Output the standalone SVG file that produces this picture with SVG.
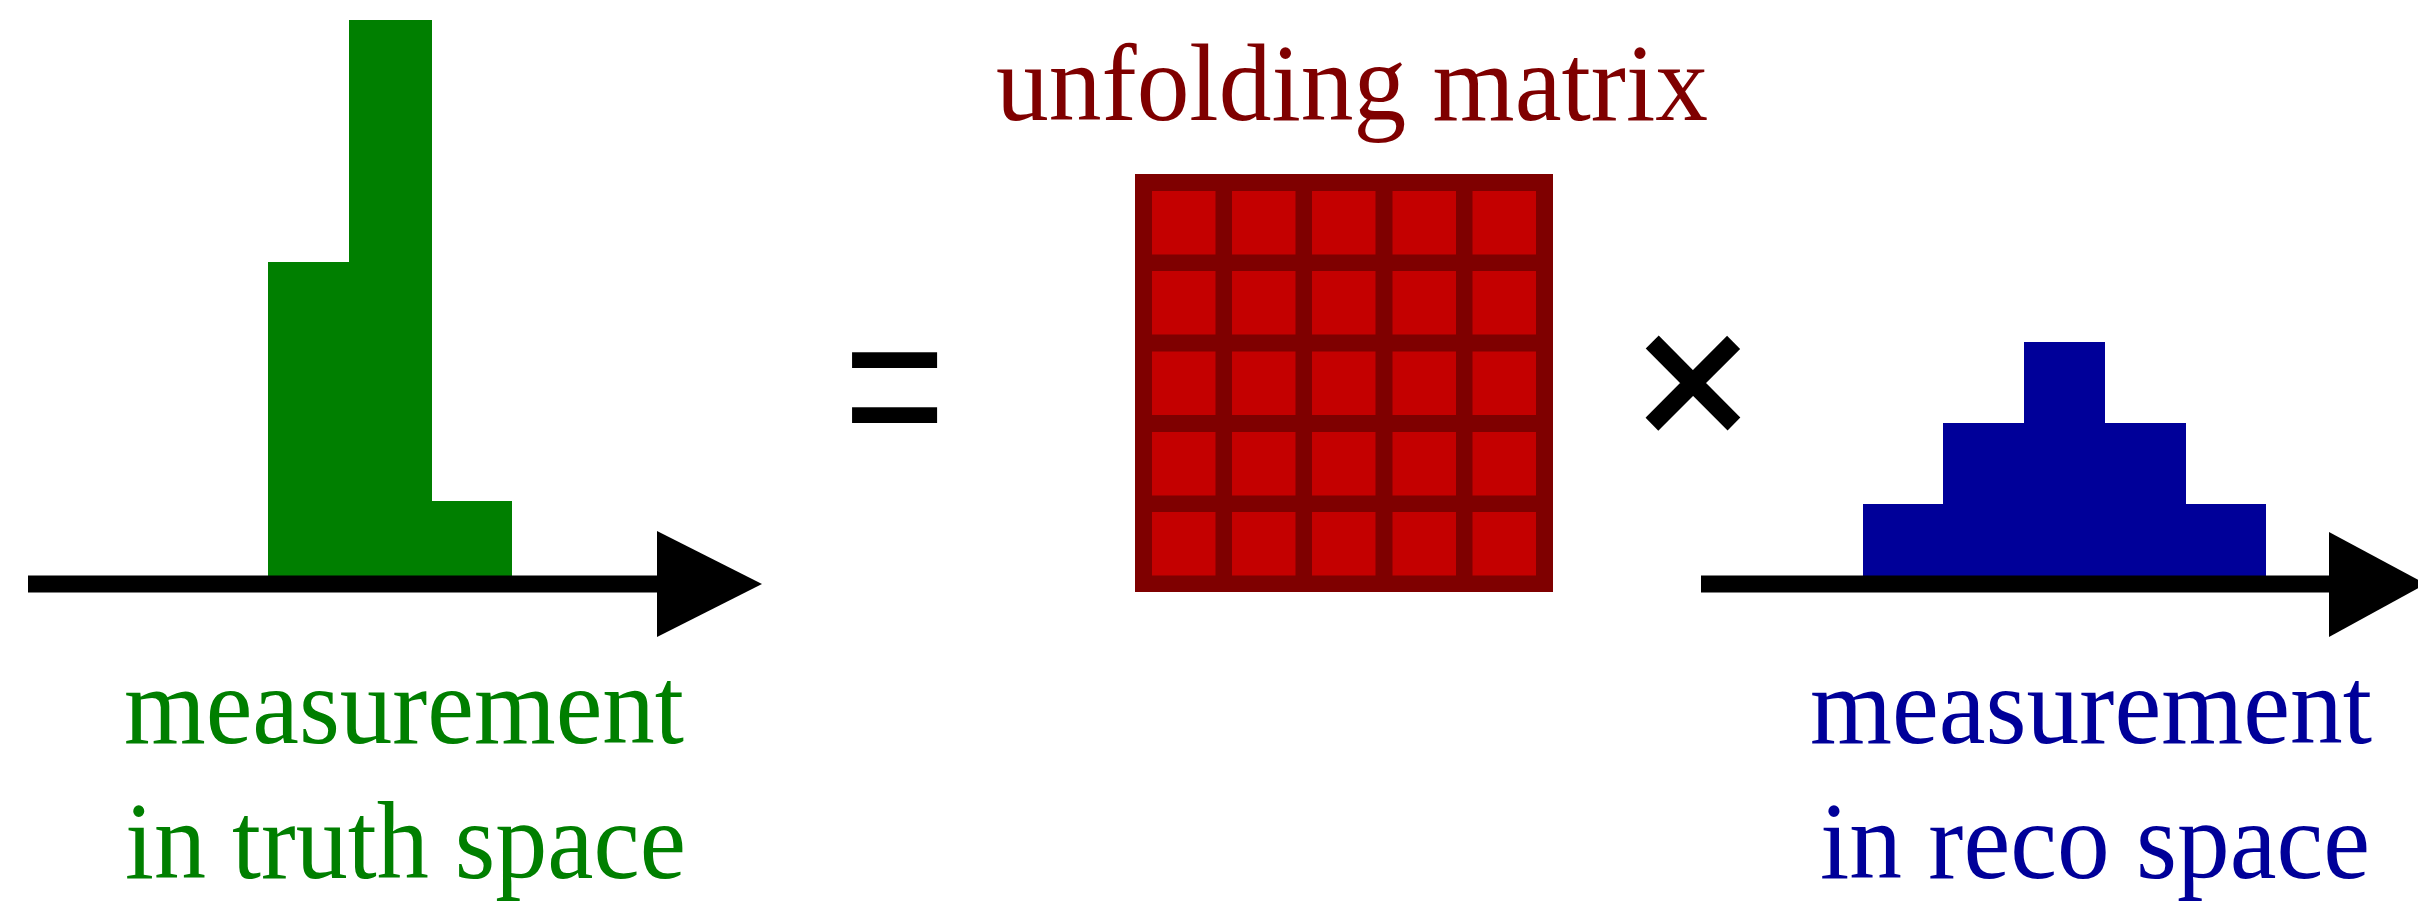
<svg xmlns="http://www.w3.org/2000/svg" width="2418" height="902" viewBox="0 0 2418 902">
  <style>
    .lbl { font-family: "Liberation Serif", "Times New Roman", serif; font-size: 110px; }
    .op { font-family: "Liberation Sans", Arial, sans-serif; fill: #000; }
    .green { fill: #007f00; }
    .blue { fill: #000099; }
    .dred { fill: #7f0000; }
    .cell { fill: #c40000; }
    .axis { stroke: #000; stroke-width: 17; fill: none; }
  </style>
  <rect x="0" y="0" width="2418" height="902" fill="#ffffff"/>

  <g id="truth-histogram">
    <rect class="green" x="268" y="262" width="82" height="314"/>
    <rect class="green" x="349" y="20" width="83" height="556"/>
    <rect class="green" x="431" y="501" width="81" height="75"/>
  </g>

  <g id="reco-histogram">
    <rect class="blue" x="1863" y="504" width="81" height="75"/>
    <rect class="blue" x="1943" y="423" width="82" height="156"/>
    <rect class="blue" x="2024" y="342" width="81" height="237"/>
    <rect class="blue" x="2104" y="423" width="82" height="156"/>
    <rect class="blue" x="2185" y="504" width="81" height="75"/>
  </g>

  <g id="connectors">
    <g id="truth-axis">
      <line class="axis" x1="28" y1="584" x2="660" y2="584"/>
      <polygon points="657,531 762,584 657,637" fill="#000"/>
    </g>
    <g id="reco-axis">
      <line class="axis" x1="1701" y1="584" x2="2332" y2="584"/>
      <polygon points="2329,532 2426,584 2329,637" fill="#000"/>
    </g>
  </g>

  <g id="unfolding-matrix">
    <rect class="dred" x="1135" y="174" width="418" height="418"/>
    <g>
      <rect class="cell" x="1152" y="191" width="63.5" height="63.5"/>
      <rect class="cell" x="1232" y="191" width="63.5" height="63.5"/>
      <rect class="cell" x="1312" y="191" width="63.5" height="63.5"/>
      <rect class="cell" x="1392.5" y="191" width="63.5" height="63.5"/>
      <rect class="cell" x="1472.5" y="191" width="63.5" height="63.5"/>

      <rect class="cell" x="1152" y="271" width="63.5" height="63.5"/>
      <rect class="cell" x="1232" y="271" width="63.5" height="63.5"/>
      <rect class="cell" x="1312" y="271" width="63.5" height="63.5"/>
      <rect class="cell" x="1392.5" y="271" width="63.5" height="63.5"/>
      <rect class="cell" x="1472.5" y="271" width="63.5" height="63.5"/>

      <rect class="cell" x="1152" y="351.5" width="63.5" height="63.5"/>
      <rect class="cell" x="1232" y="351.5" width="63.5" height="63.5"/>
      <rect class="cell" x="1312" y="351.5" width="63.5" height="63.5"/>
      <rect class="cell" x="1392.5" y="351.5" width="63.5" height="63.5"/>
      <rect class="cell" x="1472.5" y="351.5" width="63.5" height="63.5"/>

      <rect class="cell" x="1152" y="432" width="63.5" height="63.5"/>
      <rect class="cell" x="1232" y="432" width="63.5" height="63.5"/>
      <rect class="cell" x="1312" y="432" width="63.5" height="63.5"/>
      <rect class="cell" x="1392.5" y="432" width="63.5" height="63.5"/>
      <rect class="cell" x="1472.5" y="432" width="63.5" height="63.5"/>

      <rect class="cell" x="1152" y="512" width="63.5" height="63.5"/>
      <rect class="cell" x="1232" y="512" width="63.5" height="63.5"/>
      <rect class="cell" x="1312" y="512" width="63.5" height="63.5"/>
      <rect class="cell" x="1392.5" y="512" width="63.5" height="63.5"/>
      <rect class="cell" x="1472.5" y="512" width="63.5" height="63.5"/>
    </g>
    <text class="lbl dred" x="996" y="120" textLength="712" lengthAdjust="spacingAndGlyphs">unfolding matrix</text>
  </g>

  <g id="equals-sign">
    <text class="op" x="0" y="61" font-size="175" text-anchor="middle" transform="translate(894.5,384) scale(1,1.25)">=</text>
  </g>

  <g id="times-sign">
    <text class="op" x="0" y="67" font-size="200" text-anchor="middle" stroke="#000" stroke-width="4" stroke-linejoin="miter" transform="translate(1693,383)">×</text>
  </g>

  <g id="truth-label">
    <text class="lbl green" x="124" y="743" textLength="560" lengthAdjust="spacingAndGlyphs">measurement</text>
    <text class="lbl green" x="125" y="878" textLength="561" lengthAdjust="spacingAndGlyphs">in truth space</text>
  </g>

  <g id="reco-label">
    <text class="lbl blue" x="1810" y="743" textLength="562" lengthAdjust="spacingAndGlyphs">measurement</text>
    <text class="lbl blue" x="1820" y="878" textLength="550" lengthAdjust="spacingAndGlyphs">in reco space</text>
  </g>
</svg>
